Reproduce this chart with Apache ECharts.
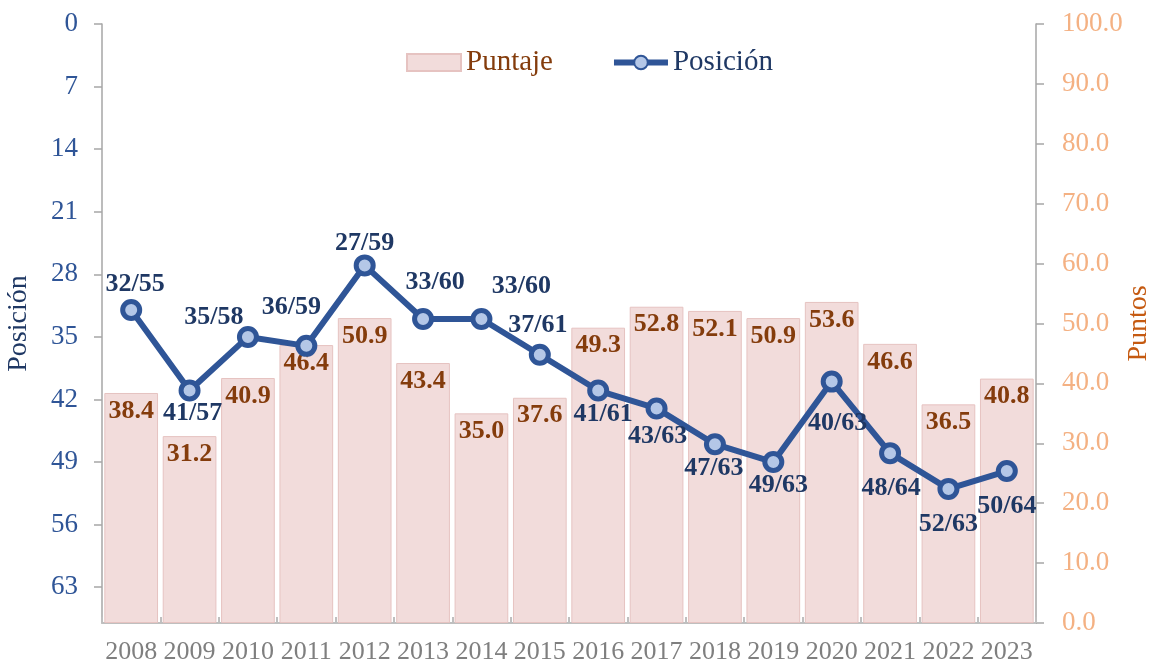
<!DOCTYPE html>
<html>
<head>
<meta charset="utf-8">
<title>Puntaje y Posición</title>
<script src="https://cdn.jsdelivr.net/npm/echarts@6/dist/echarts.min.js"></script>
<style>
    html, body {margin: 0; padding: 0; background: #fff;}
    #chart {width: 1151px; height: 666px;}
</style>
</head>
<body>
<div id="chart"></div>
<script>
// datos
var years = ['2008', '2009', '2010', '2011', '2012', '2013', '2014', '2015',
    '2016', '2017', '2018', '2019', '2020', '2021', '2022', '2023'];
var puntaje = [38.4, 31.2, 40.9, 46.4, 50.9, 43.4, 35.0, 37.6,
    49.3, 52.8, 52.1, 50.9, 53.6, 46.6, 36.5, 40.8];
var posicion = [32, 41, 35, 36, 27, 33, 33, 37, 41, 43, 47, 49, 40, 48, 52, 50];
var totalPaises = [55, 57, 58, 59, 59, 60, 60, 61, 61, 63, 63, 63, 63, 64, 63, 64];
var posTicks = [0, 7, 14, 21, 28, 35, 42, 49, 56, 63];

// desplazamiento de cada etiqueta de posicion respecto al punto
var labelOffsets = [
    [4, -26], [3, 23], [-34, -20], [-15, -39], [0, -22], [12, -37], [40, -33], [-2, -30],
    [5, 24], [1, 28], [-1, 24], [5, 23], [6, 42], [1, 35], [0, 35], [0, 35]
];

var serif = "'Liberation Serif', 'Times New Roman', serif";

var chart = echarts.init(document.getElementById('chart'));

var lineData = posicion.map(function (v, i) {
    return {value: v, label: {offset: labelOffsets[i]}};
});

var option = {
    animation: false,
    textStyle: {fontFamily: serif},
    grid: {left: 102, right: 115, top: 24, bottom: 43, outerBoundsMode: 'none'},
    legend: {
        left: 401,
        top: 43,
        itemWidth: 54,
        itemHeight: 17,
        itemGap: 58,
        textStyle: {fontFamily: serif, fontSize: 29},
        data: [
            {name: 'Puntaje', icon: 'rect', textStyle: {color: '#843c0c'}},
            {name: 'Posición', textStyle: {color: '#1f3864'}, lineStyle: {width: 6}}
        ]
    },
    xAxis: [
        {
            type: 'category',
            data: years,
            position: 'bottom',
            axisLine: {show: false},
            axisTick: {show: false},
            axisLabel: {color: '#7f7f7f', fontSize: 26, fontFamily: serif, margin: 16, interval: 0}
        },
        {
            // linea superior con marcas entre categorias
            type: 'category',
            data: years,
            position: 'top',
            axisLine: {show: true, lineStyle: {color: '#bfbfbf', width: 2}},
            axisTick: {show: true, length: 6, interval: 0, lineStyle: {color: '#bfbfbf', width: 2}},
            axisLabel: {show: false}
        }
    ],
    yAxis: [
        {
            type: 'value',
            name: 'Posición',
            nameLocation: 'middle',
            nameGap: 69,
            nameMoveOverlap: false,
            nameTextStyle: {color: '#1f3864', fontSize: 28, fontFamily: serif},
            inverse: true,
            min: 0,
            max: 67,
            interval: 7,
            position: 'left',
            splitLine: {show: false},
            axisLine: {show: true, lineStyle: {color: '#a6a6a6', width: 1.5}},
            axisTick: {show: true, length: 8, customValues: posTicks, lineStyle: {color: '#a6a6a6', width: 1.5}},
            axisLabel: {color: '#2f5597', fontSize: 27, fontFamily: serif, margin: 24, customValues: posTicks}
        },
        {
            type: 'value',
            name: 'Puntos',
            nameLocation: 'middle',
            nameGap: 89,
            nameMoveOverlap: false,
            nameTextStyle: {color: '#c55a11', fontSize: 28, fontFamily: serif},
            min: 0,
            max: 100,
            interval: 10,
            position: 'right',
            splitLine: {show: false},
            axisLine: {show: true, lineStyle: {color: '#a6a6a6', width: 1.5}},
            axisTick: {show: true, length: 8, lineStyle: {color: '#a6a6a6', width: 1.5}},
            axisLabel: {
                color: '#f4b183', fontSize: 27, fontFamily: serif, margin: 26,
                formatter: function (v) { return v.toFixed(1); }
            }
        }
    ],
    series: [
        {
            name: 'Puntaje',
            type: 'bar',
            xAxisIndex: 0,
            yAxisIndex: 1,
            barCategoryGap: '8%',
            data: puntaje,
            itemStyle: {color: '#f2dcdb', borderColor: '#e6c3c1', borderWidth: 1},
            label: {
                show: true,
                position: 'insideTop',
                distance: 5,
                color: '#843c0c',
                fontWeight: 'bold',
                fontSize: 26,
                fontFamily: serif,
                formatter: function (p) { return p.value.toFixed(1); }
            }
        },
        {
            name: 'Posición',
            type: 'line',
            xAxisIndex: 0,
            yAxisIndex: 0,
            data: lineData,
            symbol: 'circle',
            symbolSize: 17,
            lineStyle: {color: '#2f5597', width: 6},
            itemStyle: {color: '#b4c7e7', borderColor: '#2f5597', borderWidth: 5},
            label: {
                show: true,
                position: 'inside',
                color: '#1f3864',
                fontWeight: 'bold',
                fontSize: 26,
                fontFamily: serif,
                formatter: function (p) {
                    return posicion[p.dataIndex] + '/' + totalPaises[p.dataIndex];
                }
            },
            z: 5
        }
    ]
};

chart.setOption(option);
</script>
</body>
</html>
